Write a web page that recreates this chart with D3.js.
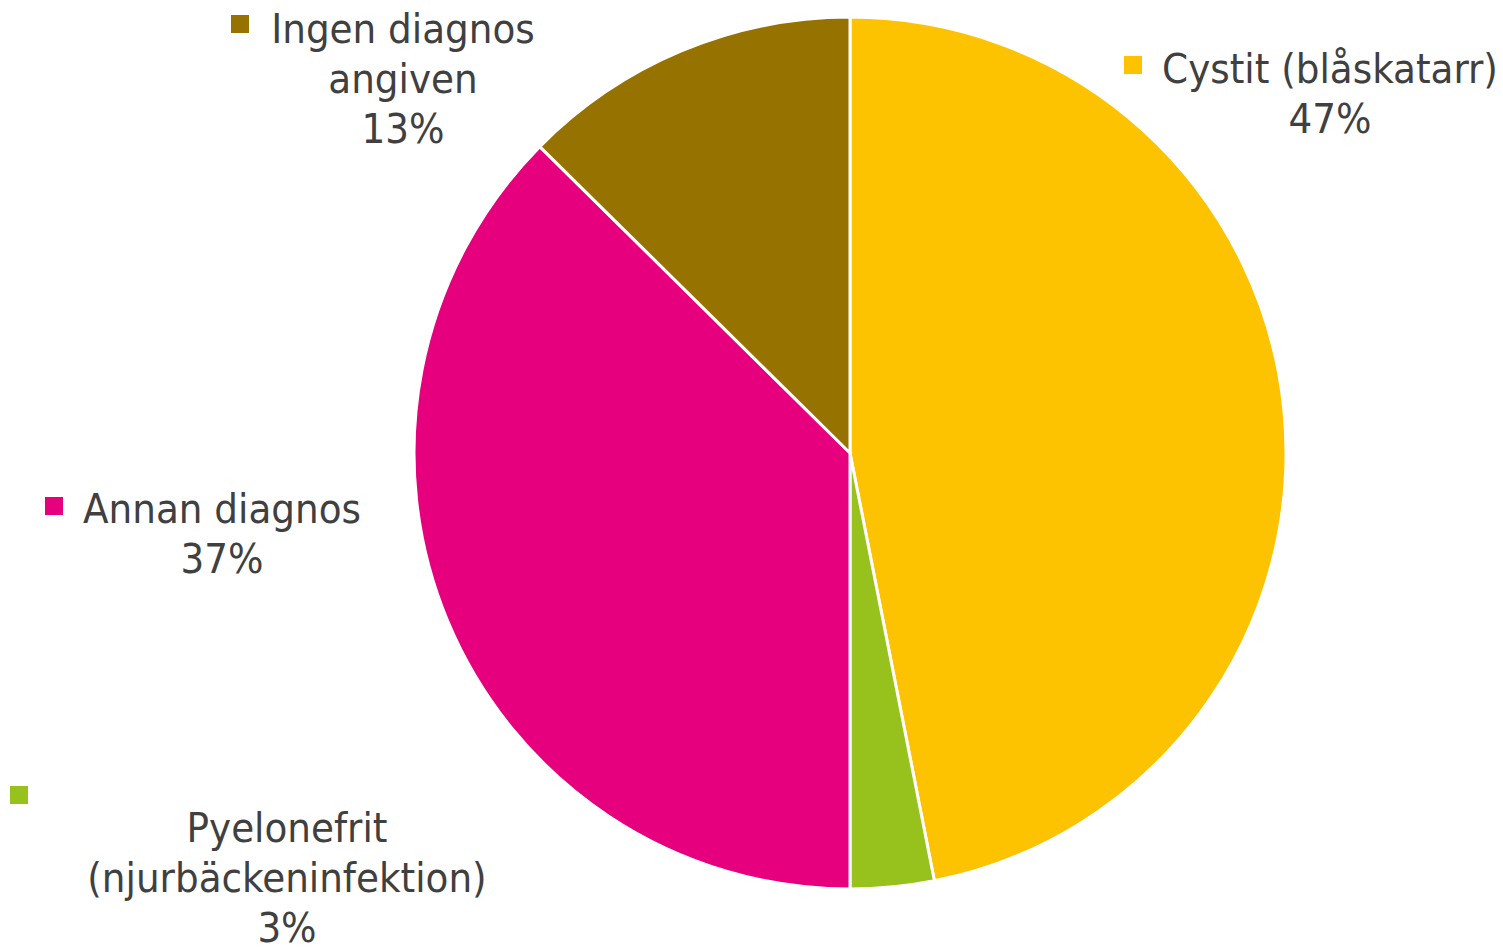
<!DOCTYPE html>
<html>
<head>
<meta charset="utf-8">
<script src="https://cdn.jsdelivr.net/npm/d3@7"></script>
<style>
  html, body { margin: 0; padding: 0; background: #fff; }
  svg { display: block; }
  .lbl { font-family: "DejaVu Sans Condensed", "DejaVu Sans", sans-serif; font-size: 41.5px; fill: #404040; }
</style>
</head>
<body>
<div id="chart"></div>
<script>
// data
const categories = ['Cystit (blåskatarr)', 'Pyelonefrit (njurbäckeninfektion)', 'Annan diagnos', 'Ingen diagnos angiven']
const shares = [46.9, 3.1, 37.4, 12.6]
const colors = ['#fdc300', '#97c21e', '#e6007e', '#967300']
// how each label wraps in the picture
const labelLines = [
  ['Cystit (blåskatarr)'],
  ['', 'Pyelonefrit', '(njurbäckeninfektion)'],
  ['Annan diagnos'],
  ['Ingen diagnos', 'angiven']
]

const width = 1503
const height = 949
const cx = 850
const cy = 453
const radius = 436
const lineH = 50

// label layout: text centre x, first baseline y, marker x/y (top-left)
const labelPos = [
  {x: 1330, y: 83, mx: 1124, my: 56},
  {x: 287, y: 792, mx: 10, my: 786},
  {x: 222, y: 523, mx: 45, my: 497},
  {x: 403, y: 43, mx: 231, my: 15}
]

const svg = d3.select('#chart')
  .append('svg')
  .attr('width', width)
  .attr('height', height)

const pie = d3.pie().sort(null).value((d) => d.value)
const arc = d3.arc().innerRadius(0).outerRadius(radius)

const data = categories.map((c, i) => ({name: c, value: shares[i], color: colors[i], lines: labelLines[i]}))

const g = svg.append('g')
  .attr('transform', `translate(${cx},${cy})`)

g.selectAll('path')
  .data(pie(data))
  .enter()
  .append('path')
  .attr('d', arc)
  .attr('fill', (d) => d.data.color)
  .attr('stroke', '#fff')
  .attr('stroke-width', 3)
  .attr('stroke-linejoin', 'round')

// labels
const labels = svg.append('g').selectAll('g.label')
  .data(data)
  .enter()
  .append('g')
  .classed('label', true)

labels.append('rect')
  .attr('x', (d, i) => labelPos[i].mx)
  .attr('y', (d, i) => labelPos[i].my)
  .attr('width', 18)
  .attr('height', 18)
  .attr('fill', (d) => d.color)

labels.each(function (d, i) {
  let p = labelPos[i]
  let lines = d.lines.concat([Math.round(d.value) + '%'])
  let text = d3.select(this).append('text')
    .classed('lbl', true)
    .attr('text-anchor', 'middle')
  lines.forEach((ln, k) => {
    if (ln === '') return
    text.append('tspan')
      .attr('x', p.x)
      .attr('y', p.y + k * lineH)
      .text(ln)
  })
})
</script>
</body>
</html>
